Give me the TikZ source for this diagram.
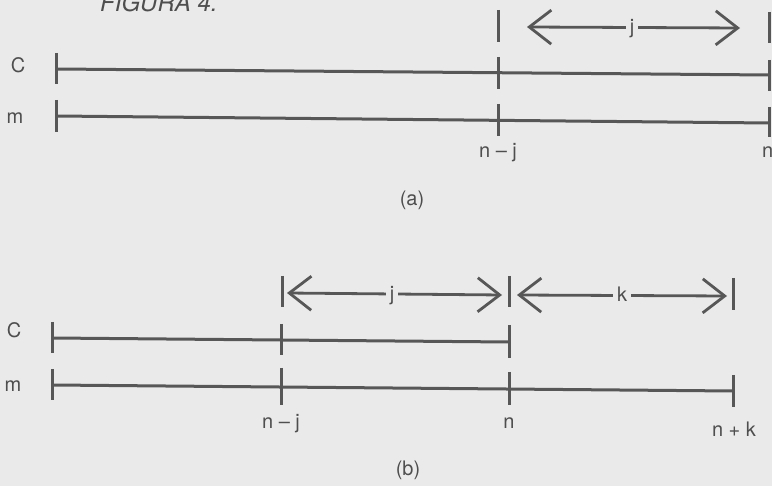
\documentclass[tikz,border=0pt]{standalone}
\usepackage{fontspec}
\setmainfont{TeX Gyre Heros}
\usetikzlibrary{arrows.meta}
\definecolor{paper}{HTML}{EAEAEA}
\definecolor{ink}{HTML}{575757}
\definecolor{textink}{HTML}{4E4E4E}
\begin{document}
\begin{tikzpicture}[x=1pt,y=-1pt,
  seg/.style={draw=ink,line width=3pt},
  tickmark/.style={draw=ink,line width=3pt},
  lbl/.style={text=textink,font=\fontsize{20}{20}\selectfont,inner sep=0pt},
  gaplbl/.style={lbl,fill=paper,inner xsep=4pt,inner ysep=1pt},
  barb/.tip={Straight Barb[length=22pt,width=34pt]},
  dimarrow/.style={draw=ink,line width=2.8pt,barb-barb},
]
\clip (0,0) rectangle (772,486);
\fill[paper] (0,0) rectangle (772,486);
\useasboundingbox (0,0) rectangle (772,486);

% caption at the top (cut by the page edge, as in the reference)
\node[anchor=base west,text=textink,font=\fontsize{24}{24}\selectfont\itshape,inner sep=0pt] (fig) at (100,12) {FIGURA 4.};

% ---------------- (a) ----------------
\coordinate (aC0) at (56,69);
\coordinate (aCj) at (498,73);
\coordinate (aCn) at (769,75);
\coordinate (aM0) at (56,116);
\coordinate (aMj) at (498,119);
\coordinate (aMn) at (769,123);
\coordinate (aAL) at (527,27);
\coordinate (aAR) at (740,28);

\draw[seg] (aC0) -- (aCn);
\draw[seg] (aM0) -- (aMn);
\draw[tickmark] (56,53) -- (56,84);
\draw[tickmark] (498,57) -- (498,89);
\draw[tickmark] (769,60) -- (769,91);
\draw[tickmark] (56,100) -- (56,132);
\draw[tickmark] (498,104) -- (498,136);
\draw[tickmark] (769,107) -- (769,137);
\draw[tickmark] (498,10) -- (498,42);
\draw[tickmark] (769,12) -- (769,43);
\draw[dimarrow] (aAL) -- (aAR);
\node[gaplbl] (ja) at (632,29) {j};

\node[lbl] (Ca) at (18,65) {C};
\node[lbl] (ma) at (15,118) {m};
\node[lbl] (nja) at (498,153) {n – j};
\node[lbl,anchor=west] (na) at (762,152) {n};
\node[lbl] (capa) at (412,200) {(a)};

% ---------------- (b) ----------------
\coordinate (bC0) at (52,338);
\coordinate (bCj) at (281,339);
\coordinate (bCn) at (509,342);
\coordinate (bM0) at (52,385);
\coordinate (bMj) at (281,387);
\coordinate (bMn) at (509,389);
\coordinate (bMk) at (733,391);
\coordinate (bJL) at (287,293);
\coordinate (bJR) at (502,295);
\coordinate (bKL) at (517,295);
\coordinate (bKR) at (727,296);

\draw[seg] (bC0) -- (bCn);
\draw[seg] (bM0) -- (bMk);
\draw[tickmark] (52,322) -- (52,353);
\draw[tickmark] (281,324) -- (281,355);
\draw[tickmark] (509,325) -- (509,358);
\draw[tickmark] (52,369) -- (52,400);
\draw[tickmark] (281,368) -- (281,405);
\draw[tickmark] (509,372) -- (509,405);
\draw[tickmark] (733,375) -- (733,407);
\draw[tickmark] (282,276) -- (282,307);
\draw[tickmark] (509,276) -- (509,307);
\draw[tickmark] (733,278) -- (733,310);
\draw[dimarrow] (bJL) -- (bJR);
\draw[dimarrow] (bKL) -- (bKR);
\node[gaplbl] (jb) at (392,296) {j};
\node[gaplbl] (kb) at (622,294) {k};

\node[lbl] (Cb) at (14,330) {C};
\node[lbl] (mb) at (13,386) {m};
\node[lbl] (njb) at (281,424) {n – j};
\node[lbl] (nb) at (509,423) {n};
\node[lbl] (nkb) at (734,429) {n + k};
\node[lbl] (capb) at (408,470) {(b)};
\end{tikzpicture}
\end{document}
